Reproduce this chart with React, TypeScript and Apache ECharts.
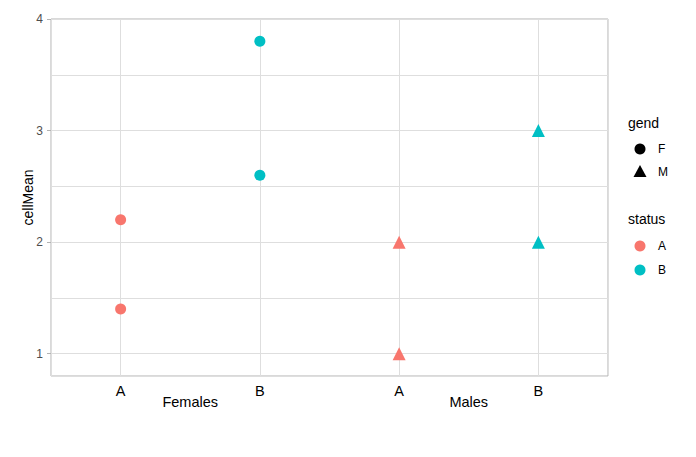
import React, { useEffect, useRef } from "react";
import * as echarts from "echarts";

const xCategories = ["A", "B", "A", "B"];
const facetLabels = ["Females", "Males"];
const yTickValues = [1, 2, 3, 4];

const femalesA = [2.2, 1.4];
const femalesB = [3.8, 2.6];
const malesA = [2.0, 1.0];
const malesB = [3.0, 2.0];

const colorA = "#F8766D";
const colorB = "#00BFC4";

export default function App() {
  const ref = useRef<HTMLDivElement>(null);
  useEffect(() => {
    if (!ref.current) return;
    const chart = echarts.init(ref.current, undefined, { renderer: "svg" });
    const font = "Liberation Sans, Arial, sans-serif";
    const mk = (pos: number, vals: number[]) => vals.map((v) => [pos, v]);
    const option: any = {
      animation: false,
      backgroundColor: "#ffffff",
      textStyle: { fontFamily: font },
      grid: {
        left: 51,
        right: 88,
        top: 19,
        bottom: 81,
        show: true,
        borderColor: "#B3B3B3",
        borderWidth: 1,
        backgroundColor: "transparent",
      },
      xAxis: [
        {
          type: "value",
          min: 0.5,
          max: 4.5,
          axisLine: { show: false },
          axisTick: { show: false },
          splitLine: { show: true, lineStyle: { color: "#DEDEDE", width: 1 } },
          axisLabel: {
            margin: 7,
            fontSize: 14.5,
            color: "#000000",
            fontFamily: font,
            formatter: (v: number) =>
              Number.isInteger(v) && v >= 1 && v <= xCategories.length ? xCategories[v - 1] : "",
          },
        },
        {
          type: "category",
          position: "bottom",
          data: facetLabels,
          boundaryGap: true,
          axisLine: { show: false },
          axisTick: { show: false },
          splitLine: { show: false },
          axisLabel: { margin: 18, fontSize: 14.5, color: "#000000", fontFamily: font },
        },
      ],
      yAxis: [
        {
          type: "value",
          min: 0.8,
          max: 4,
          axisLine: { show: false },
          axisTick: { show: false },
          axisLabel: { show: false },
          splitLine: { show: true, lineStyle: { color: "#DEDEDE", width: 1 } },
          name: "cellMean",
          nameLocation: "middle",
          nameGap: 16,
          nameTextStyle: { fontSize: 14, color: "#000000", fontFamily: font },
        },
        {
          type: "value",
          min: 0.8,
          max: 4,
          position: "left",
          axisLine: { show: false },
          axisTick: {
            show: true,
            length: 4,
            customValues: yTickValues,
            lineStyle: { color: "#B3B3B3" },
          },
          splitLine: { show: false },
          axisLabel: {
            margin: 8,
            fontSize: 12,
            color: "#4D4D4D",
            fontFamily: font,
            customValues: yTickValues,
            formatter: (v: number) => (yTickValues.includes(v) ? String(v) : ""),
          },
        },
      ],
      series: [
        {
          name: "F-A",
          type: "scatter",
          symbol: "circle",
          symbolSize: 11,
          itemStyle: { color: colorA, opacity: 1 },
          data: mk(1, femalesA),
        },
        {
          name: "F-B",
          type: "scatter",
          symbol: "circle",
          symbolSize: 11,
          itemStyle: { color: colorB, opacity: 1 },
          data: mk(2, femalesB),
        },
        {
          name: "M-A",
          type: "scatter",
          symbol: "triangle",
          symbolSize: 13,
          itemStyle: { color: colorA, opacity: 1 },
          data: mk(3, malesA),
        },
        {
          name: "M-B",
          type: "scatter",
          symbol: "triangle",
          symbolSize: 13,
          itemStyle: { color: colorB, opacity: 1 },
          data: mk(4, malesB),
        },
      ],
      graphic: [
        { type: "text", left: 628, top: 116, style: { text: "gend", fontSize: 14, fill: "#000000", fontFamily: font } },
        { type: "circle", shape: { cx: 640, cy: 149, r: 5.5 }, style: { fill: "#000" } },
        { type: "text", x: 658, y: 149, style: { text: "F", fontSize: 12, fill: "#000000", fontFamily: font, verticalAlign: "middle" } },
        { type: "polygon", shape: { points: [[640, 165], [633.5, 177], [646.5, 177]] }, style: { fill: "#000" } },
        { type: "text", x: 658, y: 172, style: { text: "M", fontSize: 12, fill: "#000000", fontFamily: font, verticalAlign: "middle" } },
        { type: "text", left: 628, top: 212, style: { text: "status", fontSize: 14, fill: "#000000", fontFamily: font } },
        { type: "circle", shape: { cx: 640, cy: 246, r: 5.5 }, style: { fill: colorA } },
        { type: "text", x: 658, y: 246, style: { text: "A", fontSize: 12, fill: "#000000", fontFamily: font, verticalAlign: "middle" } },
        { type: "circle", shape: { cx: 640, cy: 270, r: 5.5 }, style: { fill: colorB } },
        { type: "text", x: 658, y: 270, style: { text: "B", fontSize: 12, fill: "#000000", fontFamily: font, verticalAlign: "middle" } },
      ],
    };
    chart.setOption(option);
    return () => chart.dispose();
  }, []);
  return <div ref={ref} style={{ width: 696, height: 457, position: "absolute", left: 0, top: 0 }} />;
}
